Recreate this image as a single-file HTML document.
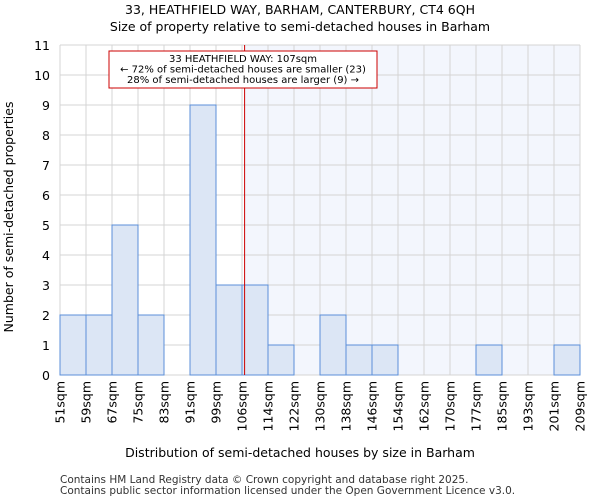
<!DOCTYPE html>
<html><head><meta charset="utf-8"><style>
body{margin:0;background:#fff;font-family:"DejaVu Sans","Liberation Sans",sans-serif;}
</style></head><body>
<svg id="chart" width="600" height="500" xmlns="http://www.w3.org/2000/svg" font-family="DejaVu Sans, Liberation Sans, sans-serif">
<text x="300" y="14" text-anchor="middle" font-size="12.5">33, HEATHFIELD WAY, BARHAM, CANTERBURY, CT4 6QH</text>
<text x="300" y="31" text-anchor="middle" font-size="12.5">Size of property relative to semi-detached houses in Barham</text>
<g id="plot"></g>
<text x="300" y="457" text-anchor="middle" font-size="12.5">Distribution of semi-detached houses by size in Barham</text>
<text transform="translate(13,217) rotate(-90)" text-anchor="middle" font-size="12.5">Number of semi-detached properties</text>
<text x="60" y="483" font-size="10.5" fill="#333">Contains HM Land Registry data © Crown copyright and database right 2025.</text>
<text x="60" y="494" font-size="10.5" fill="#333">Contains public sector information licensed under the Open Government Licence v3.0.</text>
</svg>
<script>
const tickLabels=["51sqm","59sqm","67sqm","75sqm","83sqm","91sqm","99sqm","106sqm","114sqm","122sqm","130sqm","138sqm","146sqm","154sqm","162sqm","170sqm","177sqm","185sqm","193sqm","201sqm","209sqm"];
const counts=[2,2,5,2,0,9,3,3,1,0,2,1,1,0,0,0,1,0,0,1];
const yTicks=[0,1,2,3,4,5,6,7,8,9,10,11];
const propertyBinPos=7.1;
const annotationLines=["33 HEATHFIELD WAY: 107sqm","← 72% of semi-detached houses are smaller (23)","28% of semi-detached houses are larger (9) →"];
const L=60,R=580,T=45,B=375,yMax=11;
const x=i=>L+i*(R-L)/counts.length;
const y=v=>B-v*(B-T)/yMax;
const NS="http://www.w3.org/2000/svg";
const g=document.getElementById('plot');
function mk(tag,attrs,parent){const e=document.createElementNS(NS,tag);for(const k in attrs)e.setAttribute(k,attrs[k]);(parent||g).appendChild(e);return e;}
const px=x(propertyBinPos);
let sh=mk('rect',{x:px,y:T,width:R-px,height:B-T,fill:'#f3f6fd'});


for(let i=0;i<=counts.length;i++){let l=mk('line',{x1:x(i),x2:x(i),y1:T,y2:B,stroke:'#d4d4d4','stroke-width':1});

}
yTicks.forEach(v=>{let l=mk('line',{x1:L,x2:R,y1:y(v),y2:y(v),stroke:'#d4d4d4','stroke-width':1});


let t=mk('text',{x:L-10,y:y(v)+5,'text-anchor':'end','font-size':12.5});t.textContent=v;

});
counts.forEach((c,i)=>{if(c<=0)return;let r=mk('rect',{x:x(i),y:y(c),width:x(i+1)-x(i),height:y(0)-y(c),fill:'#dce6f5',stroke:'#5b8fd9','stroke-width':1});

});
tickLabels.forEach((s,i)=>{let t=mk('text',{transform:`translate(${x(i)+4.5},381) rotate(-90)`,'text-anchor':'end','font-size':12.5});t.textContent=s;

});
let rl=mk('line',{x1:px,x2:px,y1:T,y2:B,stroke:'#cc0000','stroke-width':1});


let box=mk('rect',{x:109,y:51,width:268,height:37,fill:'#fff',stroke:'#cc0000','stroke-width':1});


annotationLines.forEach((s,i)=>{let t=mk('text',{x:243,y:62+i*10.5,'text-anchor':'middle','font-size':10});t.textContent=s;

});
</script>
</body></html>
